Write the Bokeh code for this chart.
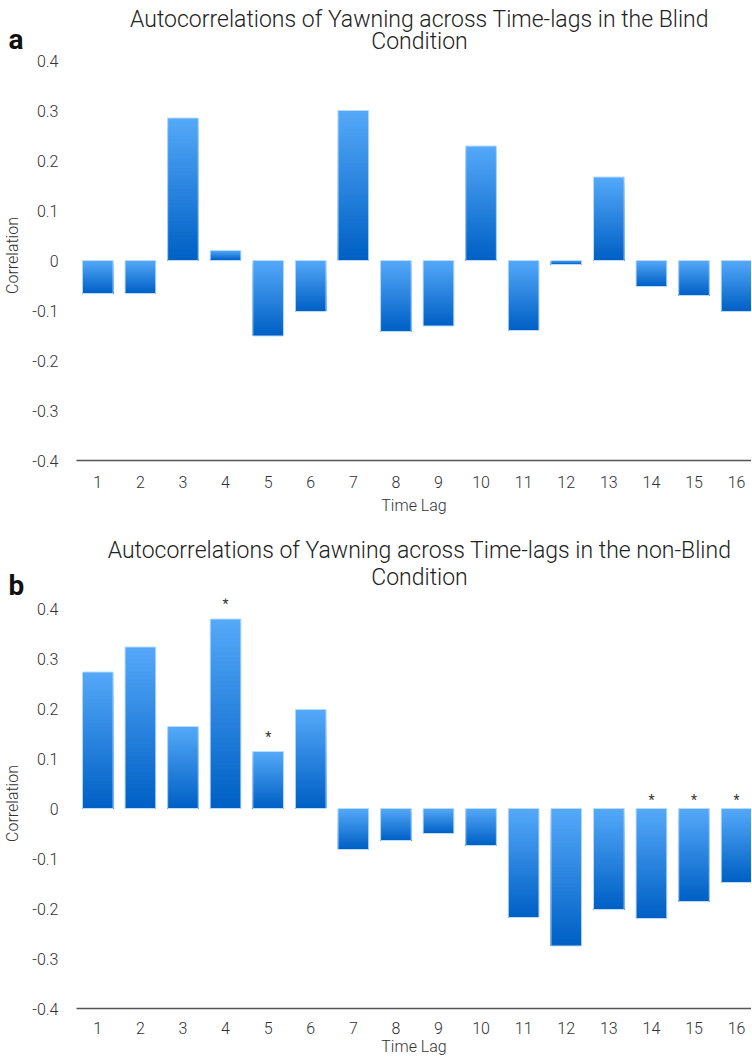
from bokeh.plotting import figure
from bokeh.layouts import column
from bokeh.models import Range1d, FixedTicker
from bokeh.core.properties import value
from bokeh.embed import file_html
from bokeh.resources import INLINE

# ---- data ----
lags = list(range(1, 17))
blind_corr = [-0.066, -0.066, 0.285, 0.020, -0.151, -0.102, 0.300, -0.142,
              -0.131, 0.229, -0.140, -0.008, 0.167, -0.052, -0.070, -0.102]
nonblind_corr = [0.273, 0.323, 0.164, 0.379, 0.114, 0.198, -0.082, -0.064,
                 -0.050, -0.074, -0.218, -0.275, -0.202, -0.220, -0.186, -0.148]
blind_sig = []
nonblind_sig = [4, 5, 14, 15, 16]
y_ticks = [-0.4, -0.3, -0.2, -0.1, 0, 0.1, 0.2, 0.3, 0.4]
y_tick_labels = ["-0.4", "-0.3", "-0.2", "-0.1", "0", "0.1", "0.2", "0.3", "0.4"]
title_lines_a = ["Autocorrelations of Yawning across Time-lags in the Blind", "Condition"]
title_lines_b = ["Autocorrelations of Yawning across Time-lags in the non-Blind", "Condition"]
panel_letters = ["a", "b"]
x_label = "Time Lag"
y_label = "Correlation"

FONT = "Roboto"
FONT_LIGHT = "Roboto Light"
TOP_RGB = (84, 168, 248)
BOT_RGB = (0, 96, 197)
N_SLICES = 40
HALF_W = 0.36
W = 744


def lerp_color(t):
    r = [int(round(a + (b - a) * t)) for a, b in zip(TOP_RGB, BOT_RGB)]
    return "#%02x%02x%02x" % tuple(r)


def make_header(lines, letter, height, y1, y2, y_letter):
    h = figure(width=W, height=height, output_backend="svg", toolbar_location=None,
               x_range=Range1d(0, W), y_range=Range1d(height, 0),
               x_axis_type=None, y_axis_type=None, frame_align=False,
               min_border_left=0, min_border_right=0, min_border_top=0, min_border_bottom=0)
    h.outline_line_color = None
    h.grid.grid_line_color = None
    h.text(x=[419, 419], y=[y1, y2], text=lines, text_align="center",
           text_baseline="alphabetic", text_font=value(FONT_LIGHT),
           text_font_size="23px", text_color="#222222")
    h.text(x=[8], y=[y_letter], text=[letter], text_align="left",
           text_baseline="alphabetic", text_font=value(FONT),
           text_font_size="28px", text_font_style="bold", text_color="#111111")
    return h


def make_panel(vals, sig, y_top, bot_b, lab_standoff, ax_standoff):
    p = figure(frame_width=675, frame_height=int(round((y_top + 0.4) * 500)),
               output_backend="svg", toolbar_location=None, frame_align=False,
               x_range=Range1d(0.5, 16.35), y_range=Range1d(-0.4, y_top),
               min_border_left=69, min_border_right=0, min_border_top=0,
               min_border_bottom=bot_b)
    p.outline_line_color = None
    p.grid.grid_line_color = None

    # gradient bars (stacked slices, light top -> dark bottom)
    L, R, T, B, C = [], [], [], [], []
    for x, v in zip(lags, vals):
        top = max(v, 0.0)
        bot = min(v, 0.0)
        for k in range(N_SLICES):
            t = top - (top - bot) * k / N_SLICES
            L.append(x - HALF_W)
            R.append(x + HALF_W)
            T.append(t)
            B.append(bot)
            C.append(lerp_color(k / (N_SLICES - 1)))
    p.quad(left=L, right=R, top=T, bottom=B, fill_color=C, line_color=None)
    p.quad(left=[x - HALF_W for x in lags], right=[x + HALF_W for x in lags],
           top=[max(v, 0) for v in vals], bottom=[min(v, 0) for v in vals],
           fill_color=None, line_color="#b8dafb", line_width=1)

    # significance stars
    pos = [s for s in sig if vals[lags.index(s)] > 0]
    neg = [s for s in sig if vals[lags.index(s)] <= 0]
    for group, off in ((pos, -15), (neg, -9)):
        if group:
            sy = [max(vals[lags.index(s)], 0) for s in group]
            p.text(x=group, y=sy, text=["*"] * len(group), text_align="center",
                   text_baseline="alphabetic", y_offset=off, text_font=value(FONT),
                   text_font_size="14px", text_color="#333333")

    # axes
    xa = p.xaxis[0]
    xa.ticker = FixedTicker(ticks=lags)
    xa.axis_line_color = "#555555"
    xa.axis_line_width = 1.5
    xa.major_tick_line_color = None
    xa.minor_tick_line_color = None
    xa.major_label_text_font = FONT_LIGHT
    xa.major_label_text_font_size = "16px"
    xa.major_label_text_color = "#333333"
    xa.major_label_standoff = lab_standoff
    xa.axis_label = x_label
    xa.axis_label_text_font = FONT_LIGHT
    xa.axis_label_text_font_size = "16px"
    xa.axis_label_text_font_style = "normal"
    xa.axis_label_text_color = "#333333"
    xa.axis_label_standoff = ax_standoff

    ya = p.yaxis[0]
    ya.ticker = FixedTicker(ticks=y_ticks)
    ya.major_label_overrides = {t: l for t, l in zip(y_ticks, y_tick_labels)}
    ya.axis_line_color = None
    ya.major_tick_line_color = None
    ya.minor_tick_line_color = None
    ya.major_label_text_font = FONT_LIGHT
    ya.major_label_text_font_size = "16px"
    ya.major_label_text_color = "#333333"
    ya.major_label_standoff = 12
    ya.axis_label = y_label
    ya.axis_label_text_font = FONT_LIGHT
    ya.axis_label_text_font_size = "16px"
    ya.axis_label_text_font_style = "normal"
    ya.axis_label_text_color = "#333333"
    ya.axis_label_standoff = 7
    return p


ha = make_header(title_lines_a, panel_letters[0], 50, 19, 41, 39)
pa = make_panel(blind_corr, blind_sig, 0.42, 68, 9, 5)
hb = make_header(title_lines_b, panel_letters[1], 70, 22, 49, 57)
pb = make_panel(nonblind_corr, nonblind_sig, 0.42, 47, 7, 0)

layout = column(ha, pa, hb, pb, spacing=0)
open("out.html", "w").write(file_html(layout, INLINE))
